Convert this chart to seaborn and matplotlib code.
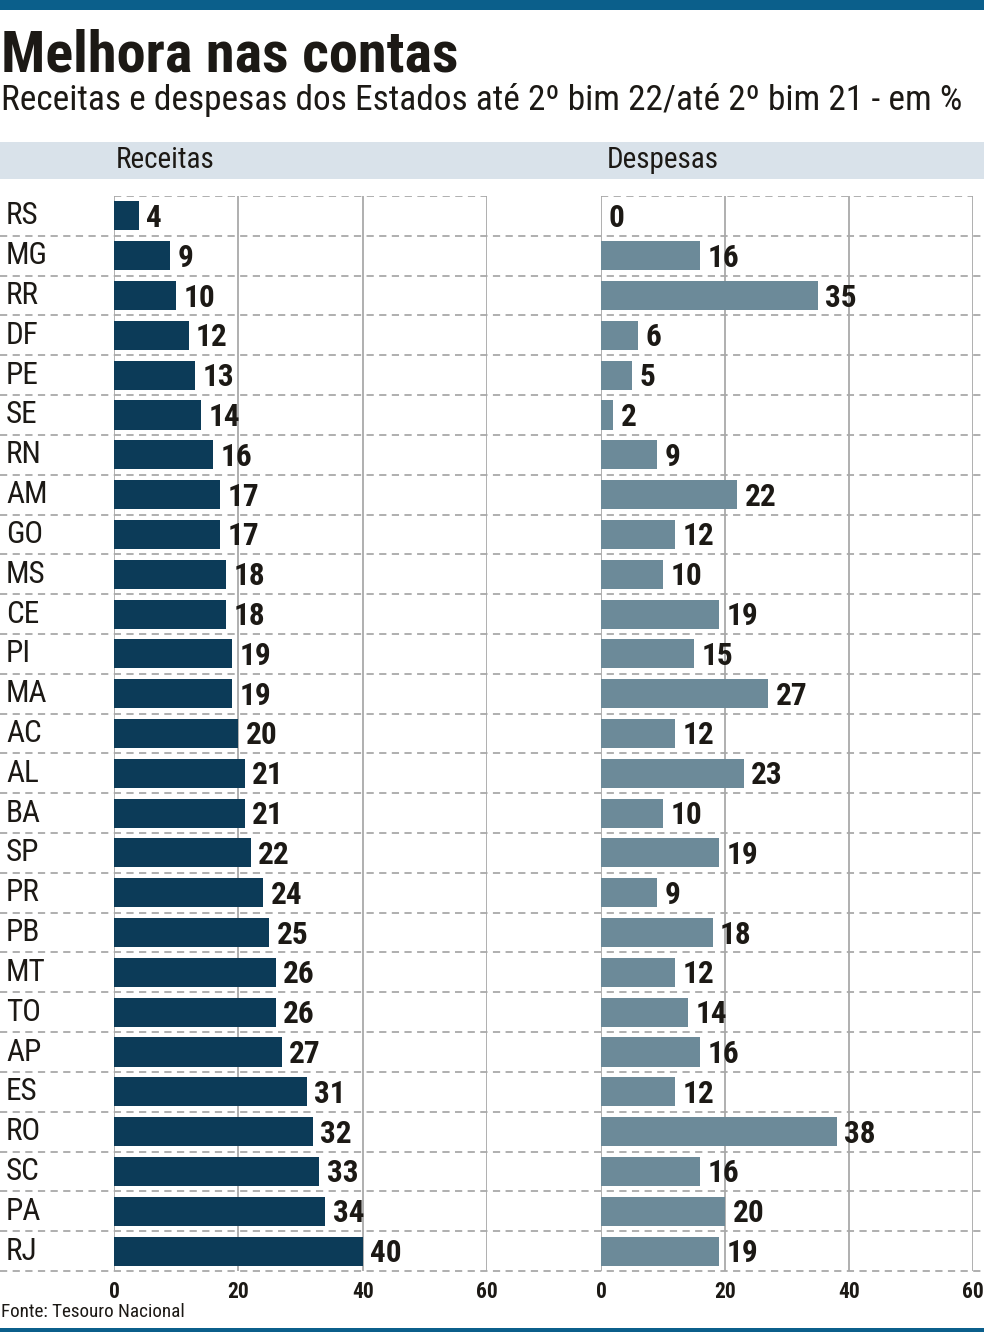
import matplotlib
matplotlib.use('Agg')
import matplotlib.pyplot as plt
import seaborn as sns
import pandas as pd
from matplotlib import font_manager as fm
from matplotlib.transforms import blended_transform_factory
from matplotlib.patches import Rectangle

states = ["RS", "MG", "RR", "DF", "PE", "SE", "RN", "AM", "GO", "MS", "CE", "PI", "MA", "AC",
          "AL", "BA", "SP", "PR", "PB", "MT", "TO", "AP", "ES", "RO", "SC", "PA", "RJ"]
receitas = [4, 9, 10, 12, 13, 14, 16, 17, 17, 18, 18, 19, 19, 20, 21, 21, 22, 24, 25, 26, 26, 27, 31, 32, 33, 34, 40]
despesas = [0, 16, 35, 6, 5, 2, 9, 22, 12, 10, 19, 15, 27, 12, 23, 10, 19, 9, 18, 12, 14, 16, 12, 38, 16, 20, 19]
xticks = [0, 20, 40, 60]

title = "Melhora nas contas"
subtitle = "Receitas e despesas dos Estados até 2º bim 22/até 2º bim 21 - em %"
panel_titles = ["Receitas", "Despesas"]
source = "Fonte: Tesouro Nacional"

df = pd.DataFrame({"Estado": states, "Receitas": receitas, "Despesas": despesas})

sns.set_theme(style="white")
plt.rcParams['font.family'] = ['DejaVu Sans']


# ---- find a condensed font installed on the system ----
def _w(f):
    w = f.weight
    if isinstance(w, str):
        w = fm.weight_dict.get(w, 400)
    return w


def _is_cond(f):
    base = f.fname.split('/')[-1]
    s = f.stretch
    if 'Narrow' in base:
        return True
    if 'SemiCondensed' in base or 'ExtraCondensed' in base or 'Semi Condensed' in base:
        return False
    if 'Condensed' in base or 'Cond' in base:
        return True
    if s in ('condensed',) or (isinstance(s, int) and 250 <= s <= 350):
        return True
    return False


cands = [f for f in fm.fontManager.ttflist if f.style == 'normal' and _is_cond(f)]
prio = ['Liberation Sans Narrow', 'Roboto Condensed', 'Noto Sans', 'Noto Sans Condensed',
        'DejaVu Sans', 'DejaVu Sans Condensed', 'Open Sans', 'Open Sans Condensed']


def famkey(name):
    for i, p in enumerate(prio):
        if name == p:
            return i
    return len(prio)


fams = {}
for f in cands:
    fams.setdefault(f.name, []).append(f)

REG = BOLD = HEAVY = None
found = False
for name in sorted(fams, key=famkey):
    fl = fams[name]
    reg = [f for f in fl if 350 <= _w(f) <= 450]
    bold = [f for f in fl if 650 <= _w(f) <= 750]
    heavy = [f for f in fl if 750 < _w(f) <= 950]
    if reg and bold:
        REG = reg[0].fname
        BOLD = bold[0].fname
        HEAVY = heavy[0].fname if heavy else BOLD
        found = True
        break


def fp(kind, size):
    if found:
        path = {'reg': REG, 'bold': BOLD, 'heavy': HEAVY}[kind]
        return fm.FontProperties(fname=path, size=size)
    weight = {'reg': 'normal', 'bold': 'bold', 'heavy': 'bold'}[kind]
    return fm.FontProperties(family='DejaVu Sans', weight=weight, size=size * 0.8)


W, H = 984, 1332
fig = plt.figure(figsize=(W / 100, H / 100), dpi=100)
fig.patch.set_facecolor('white')


def fx(px):
    return px / W


def fy(py):
    return 1 - py / H


TXT = '#1c1915'
GRID = '#a9a9a9'
BAND = '#0b5f8b'

# bands
fig.add_artist(Rectangle((0, fy(10)), 1, 10 / H, transform=fig.transFigure, color=BAND, lw=0))
fig.add_artist(Rectangle((0, 0), 1, 4 / H, transform=fig.transFigure, color=BAND, lw=0))
fig.add_artist(Rectangle((0, fy(179)), 1, 37 / H, transform=fig.transFigure, color='#d9e2ea', lw=0))

fig.text(fx(1), fy(72), title, fontproperties=fp('heavy', 42), color=TXT, ha='left', va='baseline')
fig.text(fx(1), fy(110), subtitle, fontproperties=fp('reg', 25.5), color=TXT, ha='left', va='baseline')
fig.text(fx(116), fy(160), panel_titles[0], fontproperties=fp('reg', 21), color=TXT, ha='left', va='center')
fig.text(fx(607), fy(160), panel_titles[1], fontproperties=fp('reg', 21), color=TXT, ha='left', va='center')
fig.text(fx(1), fy(1312), source, fontproperties=fp('reg', 13.8), color=TXT, ha='left', va='center')

ax_top, ax_bot = 196, 1271
axes_px = [(114, 487), (601, 973)]
cols = ["Receitas", "Despesas"]
colors = ['#0c3b58', '#6c8a99']
n = len(states)

axes = []
for (x0, x1), col, c in zip(axes_px, cols, colors):
    ax = fig.add_axes([fx(x0), fy(ax_bot), (x1 - x0) / W, (ax_bot - ax_top) / H])
    sns.barplot(data=df, x=col, y="Estado", color=c, saturation=1, width=0.73, ax=ax, zorder=3)
    for p in ax.patches:
        p.set_edgecolor('none')
    ax.set_xlim(0, 60)
    ax.set_ylim(n - 0.5, -0.5)
    for s in ax.spines.values():
        s.set_visible(False)
    ax.set_xlabel('')
    ax.set_ylabel('')
    ax.set_yticks([])
    ax.set_xticks(xticks)
    ax.set_xticklabels([str(t) for t in xticks], color=TXT)
    for lab in ax.get_xticklabels():
        lab.set_fontproperties(fp('bold', 15.5))
    ax.tick_params(axis='x', length=4, width=1.3, color=GRID, pad=3)
    for t in xticks:
        ax.axvline(t, color=GRID, lw=1.3, zorder=1)
    ax.axhline(-0.5, color=GRID, lw=1.3, ls=(0, (4, 3)), zorder=2)
    ax.set_facecolor('none')
    for i, v in enumerate(df[col]):
        ax.text(v + 1.2, i + 0.05, str(v), ha='left', va='center', fontproperties=fp('bold', 22.5),
                color=TXT, zorder=4)
    axes.append(ax)

ax = axes[0]
tr = blended_transform_factory(fig.transFigure, ax.transData)
ax.hlines([k + 0.5 for k in range(n)], 0, 1, transform=tr, color=GRID, lw=1.3,
          linestyles=[(0, (4, 3))], clip_on=False, zorder=2)
for i, s in enumerate(states):
    ax.text(fx(6), i, s, transform=tr, ha='left', va='center', fontproperties=fp('reg', 22.5), color=TXT)

fig.savefig('out.png', dpi=100, facecolor='white')
